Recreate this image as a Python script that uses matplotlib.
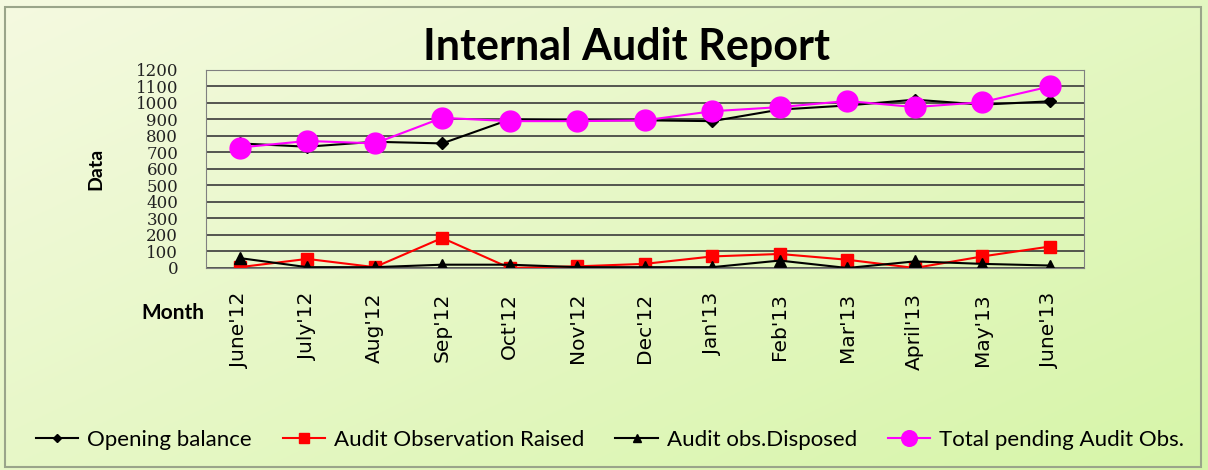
import numpy as np
import matplotlib.pyplot as plt
from matplotlib.patches import Rectangle

months = ["June'12", "July'12", "Aug'12", "Sep'12", "Oct'12", "Nov'12", "Dec'12",
          "Jan'13", "Feb'13", "Mar'13", "April'13", "May'13", "June'13"]
opening_balance = [755, 735, 765, 755, 900, 895, 895, 890, 960, 985, 1020, 990, 1010]
obs_raised = [5, 55, 5, 182, 0, 10, 25, 70, 85, 50, 0, 70, 130]
obs_disposed = [60, 5, 5, 20, 20, 5, 5, 5, 45, 0, 40, 25, 15]
total_pending = [730, 770, 755, 910, 890, 890, 895, 950, 975, 1012, 975, 1005, 1100]

fig = plt.figure(figsize=(12.08, 4.70), dpi=100)

# light green gradient background with a thin border
bg = fig.add_axes([0, 0, 1, 1], zorder=-10)
yy, xx = np.mgrid[0:1:200j, 0:1:400j]
t = np.clip(0.55 * xx + 0.45 * yy, 0, 1)
c0 = np.array([0.96, 0.98, 0.88])
c1 = np.array([0.84, 0.96, 0.66])
img = c0[None, None, :] * (1 - t[..., None]) + c1[None, None, :] * t[..., None]
bg.imshow(img, aspect="auto", extent=[0, 1, 0, 1], origin="upper")
bg.add_patch(Rectangle((5 / 1208, 3 / 470), 1196 / 1208, 460 / 470,
                       fill=False, edgecolor="#9aa58a", lw=1.5))
bg.set_xlim(0, 1)
bg.set_ylim(0, 1)
bg.axis("off")

ax = fig.add_axes([0.1705, 0.4298, 0.7265, 0.4213])
ax.set_facecolor("none")
x = np.arange(len(months))

ax.plot(x, opening_balance, color="black", marker="D", ms=6, lw=1.5, label="Opening balance")
ax.plot(x, obs_raised, color="red", marker="s", ms=9, lw=1.5, label="Audit Observation Raised")
ax.plot(x, obs_disposed, color="black", marker="^", ms=8, lw=1.5, label="Audit obs.Disposed")
ax.plot(x, total_pending, color="#ff00ff", marker="o", ms=15, lw=1.5, label="Total pending Audit Obs.")

ax.set_xlim(-0.5, len(months) - 0.5)
ax.set_ylim(0, 1200)
ax.set_yticks(np.arange(0, 1201, 100))
ax.set_yticklabels([str(v) for v in range(0, 1201, 100)], fontsize=12,
                   family="DejaVu Serif", color="#222222")
ax.set_xticks(x)
ax.set_xticklabels(months, rotation=90, fontsize=14.5, family="DejaVu Sans")
ax.tick_params(axis="y", length=0, pad=20)
ax.tick_params(axis="x", length=0, pad=18)
ax.grid(axis="y", color="#3a3a3a", lw=1.2)
ax.set_axisbelow(True)
for s in ax.spines.values():
    s.set_color("#808080")

fig.text(0.519, 0.9, "Internal Audit Report", ha="center", va="center",
         fontsize=31, fontweight="bold", family="Lato")
fig.text(0.079, 0.64, "Data", rotation=90, ha="center", va="center",
         fontsize=14, fontweight="bold", family="Lato")
fig.text(0.143, 0.335, "Month", ha="center", va="center",
         fontsize=15, fontweight="bold", family="Lato")

fig.legend(loc="center", bbox_to_anchor=(0.505, 0.064), ncol=4, frameon=False,
           prop={"family": "Lato", "size": 16}, handlelength=1.9,
           columnspacing=1.4, handletextpad=0.4, markerscale=0.75)

fig.savefig("out.png", dpi=100)
